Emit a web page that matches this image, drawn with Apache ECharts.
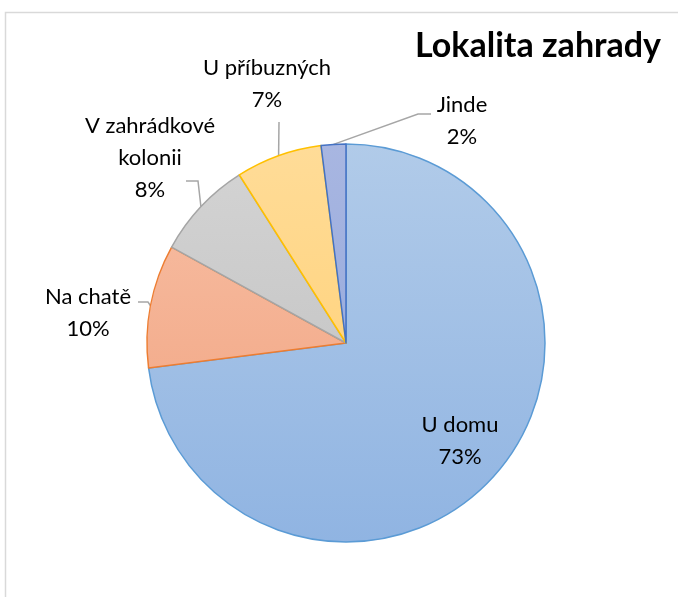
<!DOCTYPE html>
<html>
<head>
<meta charset="utf-8">
<script src="https://cdn.jsdelivr.net/npm/echarts@6/dist/echarts.min.js"></script>
<style>
  html, body { margin: 0; padding: 0; background: #fff; }
  #chart { width: 678px; height: 597px; }
</style>
</head>
<body>
<div id="chart"></div>
<script>
// data
var categories = ["U domu", "Na chatě", "V zahrádkové kolonii", "U příbuzných", "Jinde"];
var shares = [73, 10, 8, 7, 2];

// colours (fill top, fill bottom, border)
var fillTop = ["#b1cbe9", "#f8c0a6", "#d4d4d4", "#ffdc98", "#a8b6e1"];
var fillBottom = ["#90b4e2", "#f0a07c", "#bdbdbd", "#ffcd6c", "#8ea4da"];
var borders = ["#5b9bd5", "#ed7d31", "#a5a5a5", "#ffc000", "#4472c4"];

var cx = 346, cy = 343, r = 199;

// label placement: centre of text block + elbow of the leader line
var labelPos = [
  { x: 460, y: 441, line: null },
  { x: 88, y: 313, line: [[148, 302], [138, 302]] },
  { x: 150, y: 158, line: [[198, 181], [186, 181]] },
  { x: 267, y: 84, line: [[279, 122]] },
  { x: 462, y: 121, line: [[418, 114], [431, 114]] }
];

function wrapName(name) {
  if (name.length > 14) {
    var i = name.lastIndexOf(" ");
    return name.slice(0, i) + "\n" + name.slice(i + 1);
  }
  return name;
}

var chart = echarts.init(document.getElementById("chart"), null, { renderer: "canvas" });

var data = categories.map(function (name, i) {
  return {
    name: name,
    value: shares[i],
    itemStyle: {
      color: new echarts.graphic.LinearGradient(0, cy - r, 0, cy + r, [
        { offset: 0, color: fillTop[i] },
        { offset: 1, color: fillBottom[i] }
      ], true),
      borderColor: borders[i],
      borderWidth: 1.5
    },
    labelLine: { show: i !== 0 }
  };
});

var option = {
  backgroundColor: "#fff",
  animation: false,
  title: {
    text: "Lokalita zahrady",
    right: 12,
    top: 24,
    textStyle: {
      fontFamily: "Lato",
      fontWeight: "bold",
      fontSize: 34,
      color: "#000"
    }
  },
  graphic: [
    {
      type: "rect",
      shape: { x: 5.5, y: 12.5, width: 720, height: 640 },
      style: { fill: "none", stroke: "#d9d9d9", lineWidth: 1.5 },
      silent: true
    }
  ],
  series: [
    {
      type: "pie",
      center: [cx, cy],
      radius: r,
      startAngle: 90,
      clockwise: true,
      avoidLabelOverlap: false,
      label: {
        show: true,
        position: "outside",
        formatter: function (p) {
          return wrapName(p.name) + "\n" + Math.round(p.percent) + "%";
        },
        fontFamily: "Lato",
        fontSize: 22,
        lineHeight: 32,
        color: "#000",
        align: "center"
      },
      labelLine: {
        show: true,
        length: 10,
        length2: 10,
        lineStyle: { color: "#a6a6a6", width: 1.5 }
      },
      labelLayout: function (params) {
        var pos = labelPos[params.dataIndex];
        var res = {
          x: pos.x,
          y: pos.y,
          align: "center",
          verticalAlign: "middle"
        };
        if (pos.line && params.labelLinePoints) {
          res.labelLinePoints = [params.labelLinePoints[0]].concat(pos.line);
        }
        return res;
      },
      data: data
    }
  ]
};

chart.setOption(option);
</script>
</body>
</html>
